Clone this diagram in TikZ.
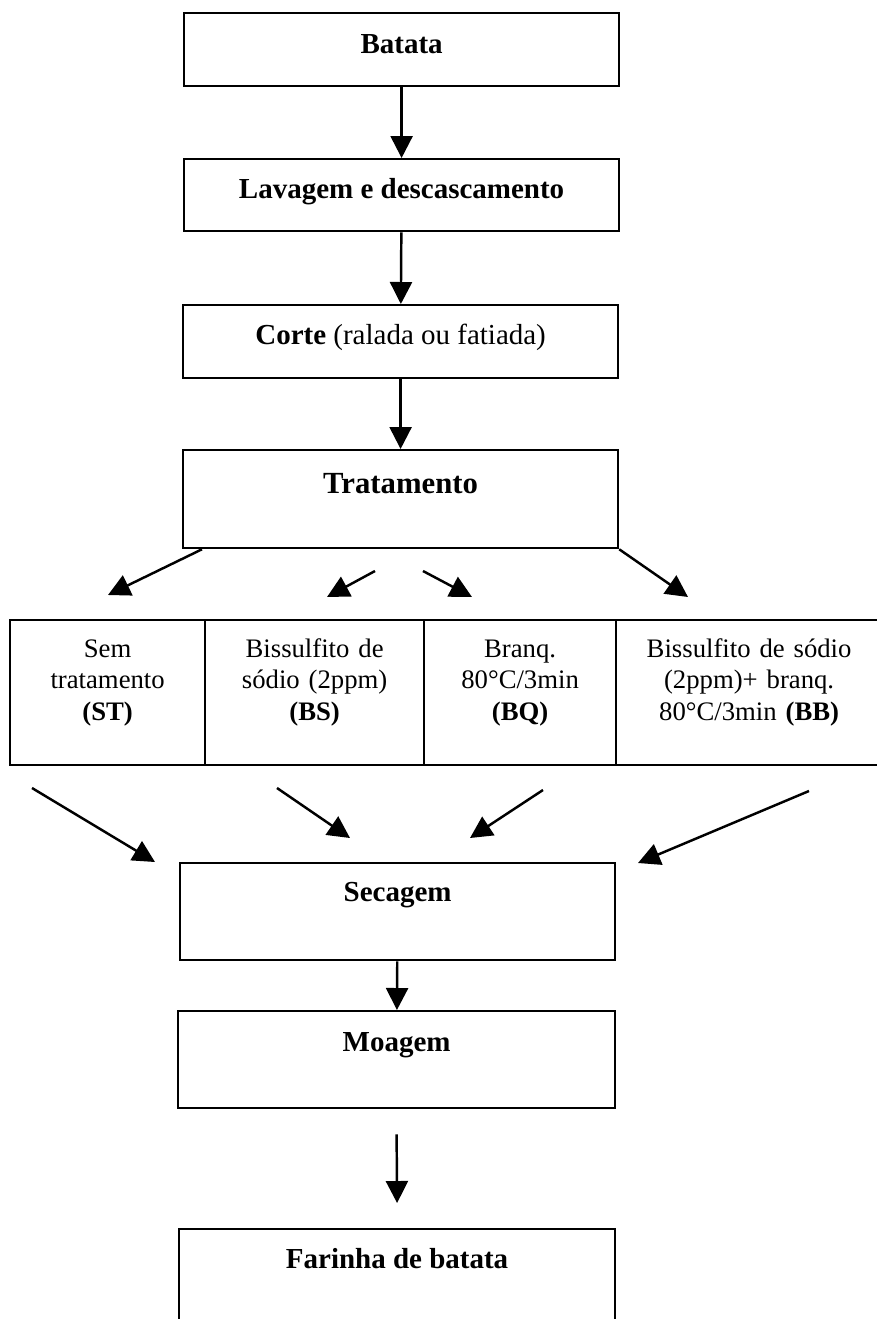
\documentclass[tikz,border=0pt]{standalone}
\usepackage{fontspec}
\setmainfont{Liberation Serif}
\usetikzlibrary{arrows.meta}

\tikzset{
  box/.style={draw, line width=1.3pt, inner sep=0pt, anchor=north west,
    font=\bfseries\fontsize{16.5}{19}\selectfont},
  rowbox/.style={draw, line width=1.3pt, inner sep=0pt, anchor=north west,
    align=center, text height=0.74cm, text depth=2.16cm,
    font=\fontsize{15.2}{17.9}\selectfont},
  arr/.style={-{Triangle[length=0.44cm,width=0.44cm]}, line width=1.4pt},
}

\begin{document}
\begin{tikzpicture}[x=0.02cm, y=-0.02cm]
  \useasboundingbox (0,0) rectangle (876,1319);

  % main line
  \node[box, minimum width=8.7cm, text height=0.8cm, text depth=0.66cm] (batata) at (183,12) {Batata};
  \node[box, minimum width=8.7cm, text height=0.78cm, text depth=0.66cm] (lavagem) at (183,158) {Lavagem e descascamento};
  \node[box, minimum width=8.7cm, text height=0.78cm, text depth=0.68cm] (corte) at (182,304) {Corte {\mdseries (ralada ou fatiada)}};
  \node[box, minimum width=8.7cm, text height=0.86cm, text depth=1.1cm,
    font=\bfseries\fontsize{17.5}{21}\selectfont] (trat) at (182,449) {Tratamento};

  \draw[arr] (batata) -- (lavagem);
  \draw[arr] (lavagem) -- (corte);
  \draw[arr] (corte) -- (trat);

  % the four treatments
  \node[rowbox, text width=3.9cm] (st) at (9,619) {Sem\\tratamento\\\textbf{(ST)}};
  \node[rowbox, text width=4.38cm] (bs) at (204,619) {Bissulfito de\\sódio (2ppm)\\\textbf{(BS)}};
  \node[rowbox, text width=3.84cm] (bq) at (423,619) {Branq.\\80°C/3min\\\textbf{(BQ)}};
  \node[rowbox, text width=5.32cm] (bb) at (615,619) {Bissulfito de sódio\\(2ppm)+ branq.\\80°C/3min \textbf{(BB)}};

  \coordinate (st-in) at (108,595);
  \coordinate (bs-from) at (375,571);
  \coordinate (bs-in) at (327,597);
  \coordinate (bq-from) at (423,571);
  \coordinate (bq-in) at (472,597);
  \coordinate (bb-in) at (688,597);

  \draw[arr] ([xshift=0.4cm]trat.south west) -- (st-in);
  \draw[arr] (bs-from) -- (bs-in);
  \draw[arr] (bq-from) -- (bq-in);
  \draw[arr] (trat.south east) -- (bb-in);

  % drying, milling, flour
  \node[box, minimum width=8.7cm, text height=0.76cm, text depth=1.18cm] (secagem) at (179,862) {Secagem};
  \node[box, minimum width=8.74cm, text height=0.8cm, text depth=1.14cm] (moagem) at (177,1010) {Moagem};
  \node[box, minimum width=8.72cm, text height=0.78cm, text depth=1.2cm] (farinha) at (178,1228) {Farinha de batata};

  \coordinate (st-out) at (32,788);
  \coordinate (bs-out) at (277,788);
  \coordinate (bq-out) at (543,790);
  \coordinate (bb-out) at (809,791);
  \coordinate (sec-st) at (155,862);
  \coordinate (sec-bs) at (350,838);
  \coordinate (sec-bq) at (470,838);
  \coordinate (sec-bb) at (638,863);

  \draw[arr] (st-out) -- (sec-st);
  \draw[arr] (bs-out) -- (sec-bs);
  \draw[arr] (bq-out) -- (sec-bq);
  \draw[arr] (bb-out) -- (sec-bb);

  \draw[arr] (secagem) -- (moagem);
  \draw[arr] ([yshift=-0.5cm]moagem.south) -- ([yshift=0.5cm]farinha.north);
\end{tikzpicture}
\end{document}
